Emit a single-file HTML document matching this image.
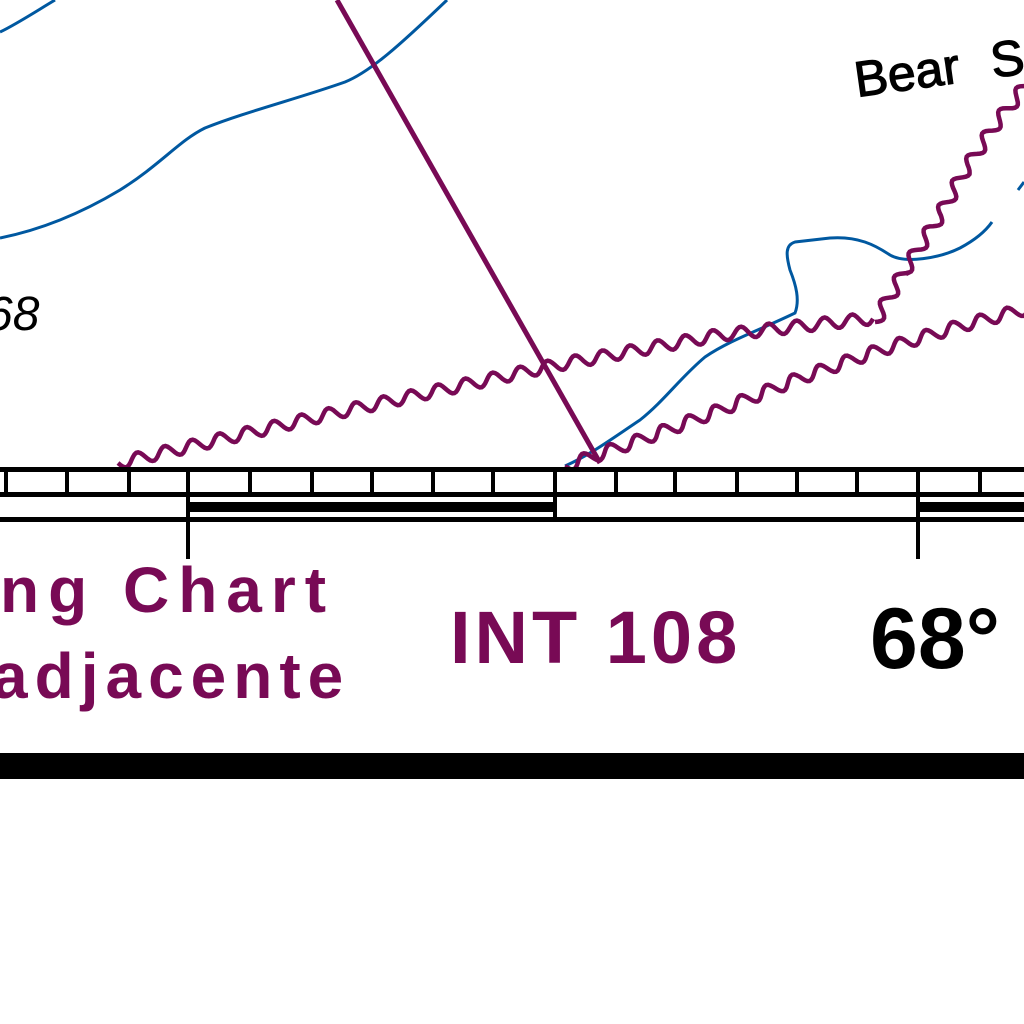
<!DOCTYPE html>
<html><head><meta charset="utf-8"><style>
html,body{margin:0;padding:0;background:#fff;}
#wrap{position:relative;width:1024px;height:1024px;overflow:hidden;background:#fff;}
svg{position:absolute;left:0;top:0;}
</style></head><body>
<div id="wrap">
<svg id="map" width="1024" height="1024" viewBox="0 0 1024 1024">
 <g fill="none" stroke="#0058a0" stroke-width="3">
  <path d="M0,32 C15,25 35,12 55,0"/>
  <path d="M0,238 C30,232 70,220 120,190 C160,165 180,140 205,128 C245,112 300,98 345,82 C370,72 400,45 447,0"/>
  <path d="M565,466 C590,455 610,440 640,420 C665,400 680,378 705,357 C730,340 760,330 795,313 C800,300 796,285 790,270 C786,255 785,245 795,242 L830,238 C858,236 875,245 890,255 C905,264 940,258 960,248 C975,240 985,232 992,222"/>
  <path d="M1018,190 L1024,182"/>
 </g>
 <line x1="337" y1="0" x2="600" y2="463" stroke="#780a55" stroke-width="5"/>
 <g id="waves" fill="none" stroke="#780a55" stroke-width="4.5"></g>
 <g>
  <rect x="0" y="467" width="1024" height="5" fill="#000"/>
  <rect x="0" y="492" width="1024" height="5" fill="#000"/>
  <rect x="0" y="517" width="1024" height="5" fill="#000"/>
  <rect x="188" y="502" width="367" height="10" fill="#000"/>
  <rect x="918" y="502" width="106" height="10" fill="#000"/>
  <rect x="186" y="496" width="4" height="63" fill="#000"/>
  <rect x="553" y="496" width="4" height="26" fill="#000"/>
  <rect x="916" y="496" width="4" height="63" fill="#000"/>
  <g id="ticks" fill="#000"></g>
 </g>
 <rect x="0" y="753" width="1024" height="26" fill="#000"/>
 <text x="857" y="97" font-family="Liberation Sans, sans-serif" font-size="50" word-spacing="18" fill="#000" stroke="#000" stroke-width="1.2" transform="rotate(-8 857 97)">Bear S</text>
 <text x="-14" y="330" font-family="Liberation Sans, sans-serif" font-style="italic" font-size="48" fill="#000">68</text>
 <g font-family="Liberation Sans, sans-serif" font-weight="bold" fill="#780a55">
  <text x="0" y="612" font-size="64" letter-spacing="9">ng Chart</text>
  <text x="-8" y="698" font-size="64" letter-spacing="7">adjacente</text>
  <text x="450" y="663" font-size="74" letter-spacing="4">INT 108</text>
 </g>
 <text x="870" y="668" font-family="Liberation Sans, sans-serif" font-weight="bold" font-size="86" fill="#000">68°</text>
</svg>
</div>
<script>
var tickX=[6,67,129,188,250,312,372,433,493,555,616,675,737,797,857,918,980];
var tg=document.getElementById('ticks');
tickX.forEach(function(x){
 var r=document.createElementNS('http://www.w3.org/2000/svg','rect');
 r.setAttribute('x',x-2);r.setAttribute('y',470);r.setAttribute('width',4);r.setAttribute('height',25);
 
 
 tg.appendChild(r);
});
var wave1=[[118,463],[330,414],[556,365],[720,335],[875,318]];
var wave1b=[[875,322],[905,270],[940,215],[965,170],[995,125],[1030,80]];
var wave2=[[565,466],[640,440],[720,410],[800,378],[880,350],[960,326],[1030,308]];
function wavy(pts){
 var d='',period=28,amp=6,step=2,t=0;
 for(var i=0;i<pts.length-1;i++){
  var a=pts[i],b=pts[i+1],dx=b[0]-a[0],dy=b[1]-a[1],L=Math.hypot(dx,dy);
  var nx=-dy/L,ny=dx/L;
  for(var s=0;s<L;s+=step){
   var off=amp*Math.sin(2*Math.PI*(t+s)/period);
   var x=a[0]+dx*s/L+nx*off,y=a[1]+dy*s/L+ny*off;
   d+=(d?'L':'M')+x.toFixed(1)+','+y.toFixed(1);
  }
  t+=L;
 }
 return d;
}
var wg=document.getElementById('waves');
[[wave1,'restricted-limit-1'],[wave1b,'restricted-limit-1-north'],[wave2,'restricted-limit-2']].forEach(function(w){
 var p=document.createElementNS('http://www.w3.org/2000/svg','path');
 p.setAttribute('d',wavy(w[0]));
 
 
 wg.appendChild(p);
});
</script>
</body></html>
